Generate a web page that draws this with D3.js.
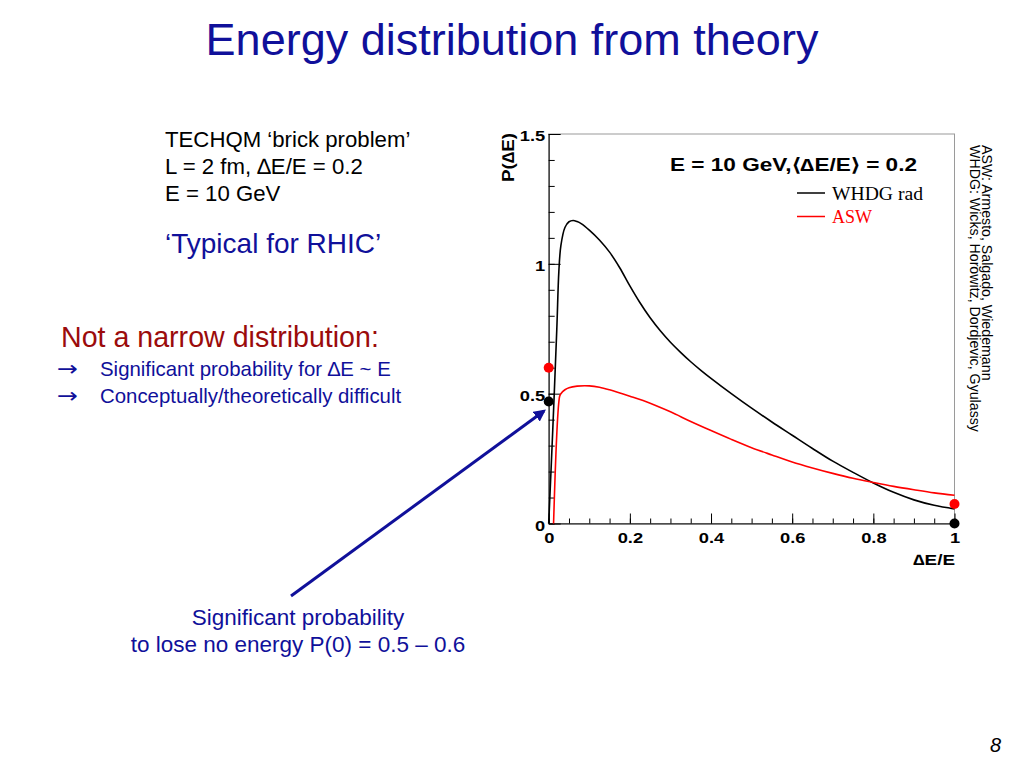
<!DOCTYPE html>
<html>
<head>
<meta charset="utf-8">
<script src="https://cdn.jsdelivr.net/npm/d3@7/dist/d3.min.js"></script>
<style>
	body { margin: 0; background: #fff; }
	svg { display: block; font-family: "Liberation Sans", Arial, Helvetica, sans-serif; }
</style>
</head>
<body>
<div id="chart"></div>
<script>
// WHDG rad curve (black)
const whdgX = [0, 0.01, 0.02, 0.025, 0.03, 0.04, 0.05, 0.06, 0.07, 0.08, 0.1, 0.125, 0.15, 0.175, 0.2, 0.225, 0.25, 0.275, 0.3, 0.325, 0.35, 0.375, 0.4, 0.45, 0.5, 0.55, 0.6, 0.65, 0.7, 0.75, 0.8, 0.85, 0.9, 0.95, 1.0];
const whdgY = [0, 0.36, 0.75, 0.97, 1.07, 1.14, 1.162, 1.167, 1.163, 1.155, 1.13, 1.092, 1.045, 0.985, 0.915, 0.85, 0.792, 0.742, 0.698, 0.659, 0.623, 0.59, 0.559, 0.5, 0.444, 0.391, 0.34, 0.289, 0.24, 0.197, 0.156, 0.12, 0.091, 0.07, 0.056];

// ASW curve (red)
const aswX = [0.012, 0.027, 0.03, 0.04, 0.05, 0.07, 0.1, 0.125, 0.15, 0.2, 0.25, 0.3, 0.35, 0.4, 0.45, 0.5, 0.55, 0.6, 0.65, 0.7, 0.75, 0.8, 0.85, 0.9, 0.95, 1.0];
const aswY = [0, 0.49, 0.5, 0.515, 0.523, 0.529, 0.53, 0.525, 0.515, 0.49, 0.463, 0.43, 0.393, 0.358, 0.324, 0.292, 0.264, 0.237, 0.214, 0.193, 0.174, 0.158, 0.143, 0.13, 0.118, 0.109];

// end-point markers: P(0) and P(1)
const dotX = [0, 0, 1, 1];
const dotY = [0.6, 0.47, 0.075, 0];
const dotSeries = ['ASW', 'WHDG', 'ASW', 'WHDG'];

const xMajor = [0, 0.2, 0.4, 0.6, 0.8, 1];
const yMajor = [0, 0.5, 1, 1.5];
const legendNames = ['WHDG rad', 'ASW'];

const colors = {WHDG: '#000000', ASW: '#ff0000'};
const blue = '#10109a';

const svg = d3.select('#chart').append('svg')
	.attr('width', 1024)
	.attr('height', 768);

const x = d3.scaleLinear().domain([0, 1]).range([548.7, 954.5]);
const y = d3.scaleLinear().domain([0, 1.5]).range([523.5, 134]);

// title
svg.append('text')
	.attr('x', 512).attr('y', 55)
	.attr('text-anchor', 'middle')
	.attr('font-size', 45)
	.attr('fill', blue)
	.text('Energy distribution from theory');

// left text block
const info = ['TECHQM \u2018brick problem\u2019', 'L = 2 fm, \u2206E/E = 0.2', 'E = 10 GeV'];
svg.append('g').selectAll('text').data(info).join('text')
	.attr('x', 165).attr('y', (d, i) => 147 + i * 27)
	.attr('font-size', 22.2)
	.text(d => d);

svg.append('text')
	.attr('x', 165).attr('y', 253)
	.attr('font-size', 28)
	.attr('fill', blue)
	.text('\u2018Typical for RHIC\u2019');

svg.append('text')
	.attr('x', 61).attr('y', 347)
	.attr('font-size', 28.6)
	.attr('fill', '#9b0b0b')
	.text('Not a narrow distribution:');

const bullets = ['Significant probability for \u2206E ~ E', 'Conceptually/theoretically difficult'];
const bulletG = svg.append('g').attr('fill', blue).attr('font-size', 20.4);
bullets.forEach((b, i) => {
	bulletG.append('text')
		.attr('x', 57).attr('y', 376 + i * 27)
		.attr('font-family', '"DejaVu Sans", sans-serif')
		.attr('font-size', 21)
		.attr('textLength', 21)
		.attr('lengthAdjust', 'spacingAndGlyphs')
		.text('\u2192');
	bulletG.append('text').attr('x', 100).attr('y', 376 + i * 27).text(b);
});

const note = ['Significant probability', 'to lose no energy P(0) = 0.5 \u2013 0.6'];
svg.append('g').selectAll('text').data(note).join('text')
	.attr('x', 298).attr('y', (d, i) => 625 + i * 27)
	.attr('text-anchor', 'middle')
	.attr('font-size', 22.5)
	.attr('fill', blue)
	.text(d => d);

// arrow to P(0)
svg.append('defs').append('marker')
	.attr('id', 'head')
	.attr('viewBox', '0 0 10 10')
	.attr('refX', 8).attr('refY', 5)
	.attr('markerWidth', 4).attr('markerHeight', 4)
	.attr('orient', 'auto')
	.append('path')
	.attr('d', 'M0,0L10,5L0,10Z')
	.attr('fill', blue);

svg.append('line')
	.attr('x1', 291).attr('y1', 596)
	.attr('x2', 544).attr('y2', 411)
	.attr('stroke', blue)
	.attr('stroke-width', 3)
	.attr('marker-end', 'url(#head)');

// plot frame
const plot = svg.append('g');
plot.append('rect')
	.attr('x', x(0)).attr('y', y(1.5))
	.attr('width', x(1) - x(0)).attr('height', y(0) - y(1.5))
	.attr('fill', 'none')
	.attr('stroke', '#9a9a9a')
	.attr('stroke-width', 1);

const yMinor = d3.range(0, 1.5001, 0.1);
const xMinor = d3.range(0, 1.0001, 0.05);

plot.append('g')
	.attr('transform', `translate(0,${y(0)})`)
	.call(d3.axisBottom(x).tickValues(xMinor).tickSize(-5).tickFormat(''))
	.call(g => g.select('.domain').remove());

plot.append('g')
	.attr('transform', `translate(${x(0)},0)`)
	.call(d3.axisLeft(y).tickValues(yMinor).tickSize(-6).tickFormat(''))
	.call(g => g.select('.domain').remove());

const xAxis = plot.append('g')
	.attr('transform', `translate(0,${y(0)})`)
	.call(d3.axisBottom(x).tickValues(xMajor).tickSize(-10).tickSizeOuter(0).tickPadding(8).tickFormat(d3.format('~g')));

const yAxis = plot.append('g')
	.attr('transform', `translate(${x(0)},0)`)
	.call(d3.axisLeft(y).tickValues(yMajor).tickSize(-12).tickSizeOuter(0).tickPadding(3).tickFormat(d3.format('~g')));

[xAxis, yAxis].forEach(a => {
	a.selectAll('line, path').attr('stroke', '#000').attr('stroke-width', 1);
	a.selectAll('text')
		.attr('font-size', 15.5)
		.attr('font-weight', 'bold')
		.attr('fill', '#000')
		.attr('font-family', '"Liberation Sans", Arial, sans-serif');
});
xAxis.selectAll('text').attr('transform', 'scale(1.18,1)');
yAxis.selectAll('text').attr('transform', 'scale(1.18,1)').attr('dy', '0.45em');

// axis titles
svg.append('text')
	.attr('transform', `translate(514,${y(1.5) - 1}) rotate(-90)`)
	.attr('text-anchor', 'end')
	.attr('font-size', 17)
	.attr('font-weight', 'bold')
	.attr('textLength', 49)
	.attr('lengthAdjust', 'spacingAndGlyphs')
	.text('P(\u2206E)');

svg.append('text')
	.attr('x', 913).attr('y', 565)
	.attr('font-size', 15)
	.attr('font-weight', 'bold')
	.attr('textLength', 42)
	.attr('lengthAdjust', 'spacingAndGlyphs')
	.text('\u2206E/E');

// curves
const line = d3.line()
	.x(d => x(d[0]))
	.y(d => y(d[1]))
	.curve(d3.curveCatmullRom.alpha(0.5));

plot.append('path')
	.datum(whdgX.map((v, i) => [v, whdgY[i]]))
	.attr('d', line)
	.attr('fill', 'none')
	.attr('stroke', colors.WHDG)
	.attr('stroke-width', 1.6);

plot.append('path')
	.datum(aswX.map((v, i) => [v, aswY[i]]))
	.attr('d', line)
	.attr('fill', 'none')
	.attr('stroke', colors.ASW)
	.attr('stroke-width', 1.6);

plot.append('g').selectAll('circle').data(dotX).join('circle')
	.attr('cx', d => x(d))
	.attr('cy', (d, i) => y(dotY[i]))
	.attr('r', 5)
	.attr('fill', (d, i) => colors[dotSeries[i]]);

// legend
svg.append('text')
	.attr('x', 670).attr('y', 171)
	.attr('font-size', 17.5)
	.attr('font-weight', 'bold')
	.attr('textLength', 247)
	.attr('lengthAdjust', 'spacingAndGlyphs')
	.text('E = 10 GeV,\u27E8\u2206E/E\u27E9 = 0.2');

const legend = svg.append('g').attr('font-family', '"Liberation Serif", "Times New Roman", serif');
legendNames.forEach((name, i) => {
	const c = i === 0 ? colors.WHDG : colors.ASW;
	const ly = 193 + i * 23.5;
	legend.append('line')
		.attr('x1', 797).attr('x2', 825)
		.attr('y1', ly).attr('y2', ly)
		.attr('stroke', c)
		.attr('stroke-width', 1.5);
	legend.append('text')
		.attr('x', 832).attr('y', ly + 6.5)
		.attr('font-size', 19)
		.attr('fill', c)
		.attr('textLength', i === 0 ? 91 : 40)
		.attr('lengthAdjust', 'spacingAndGlyphs')
		.text(name);
});

// references, rotated
const refs = ['ASW: Armesto, Salgado, Wiedemann', 'WHDG: Wicks, Horowitz, Dordjevic, Gyulassy'];
svg.append('g').selectAll('text').data(refs).join('text')
	.attr('transform', (d, i) => `translate(${982 - i * 12.5},145) rotate(90)`)
	.attr('font-size', 14.2)
	.text(d => d);

// slide number
svg.append('text')
	.attr('x', 1001).attr('y', 752)
	.attr('text-anchor', 'end')
	.attr('font-size', 20)
	.attr('font-style', 'italic')
	.text('8');
</script>
</body>
</html>
